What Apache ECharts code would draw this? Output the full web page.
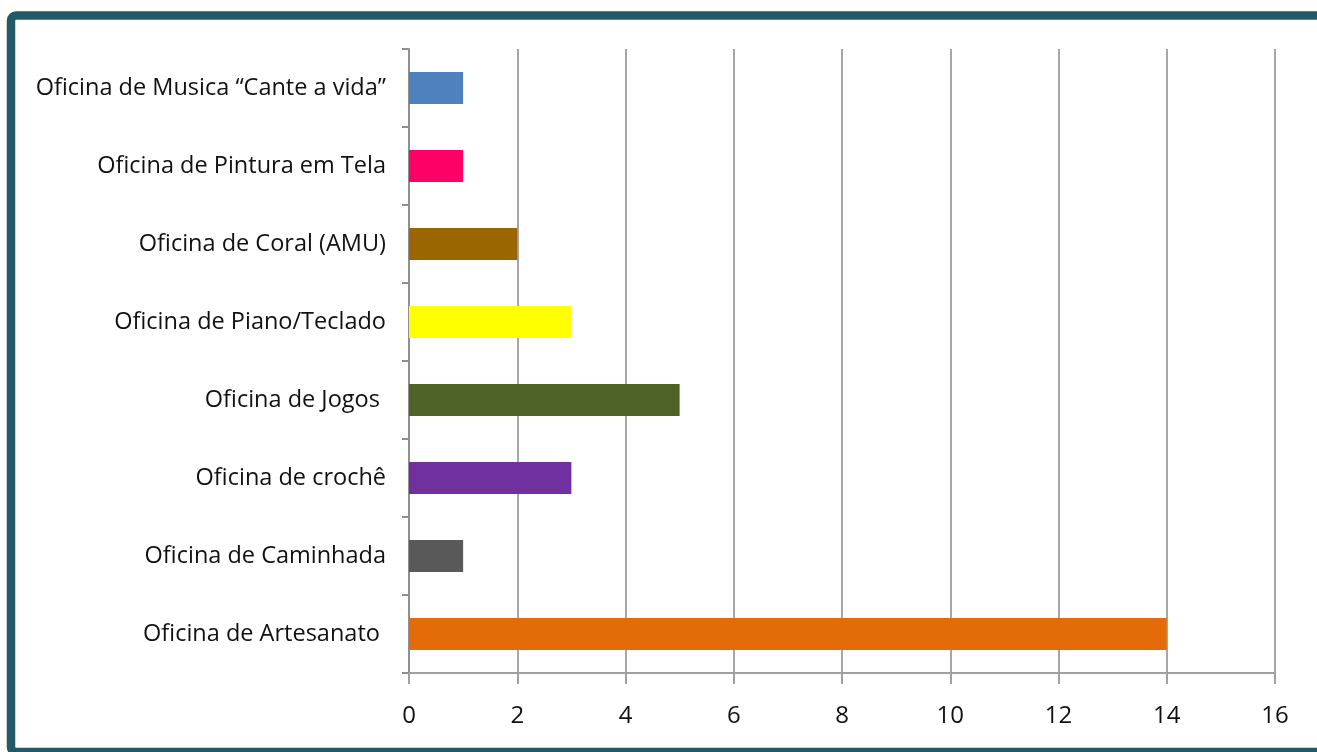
<!DOCTYPE html>
<html><head><meta charset="utf-8">
<script src="https://cdn.jsdelivr.net/npm/echarts@6/dist/echarts.min.js"></script>
<style>html,body{margin:0;padding:0;background:#fff}#c{width:1317px;height:752px}</style>
</head><body><div id="c"></div>
<script>
const categories = ["Oficina de Artesanato ", "Oficina de Caminhada", "Oficina de crochê", "Oficina de Jogos ", "Oficina de Piano/Teclado", "Oficina de Coral (AMU)", "Oficina de Pintura em Tela", "Oficina de Musica \u201cCante a vida\u201d"];
const values = [14, 1, 3, 5, 3, 2, 1, 1];
const colors = ["#e36c09", "#595959", "#7030a0", "#4f6228", "#ffff00", "#996600", "#ff0066", "#4f81bd"];
const xTicks = [0, 2, 4, 6, 8, 10, 12, 14, 16];

const chart = echarts.init(document.getElementById('c'), null, {renderer: 'canvas'});
const font = '"Open Sans", sans-serif';
chart.setOption({
  animation: false,
  backgroundColor: '#fff',
  graphic: [{
    type: 'rect', silent: true, z: 100,
    shape: {x: 11, y: 15.5, width: 1330, height: 736.5, r: 5},
    style: {fill: 'none', stroke: '#225a68', lineWidth: 8.5}
  }],
  grid: {left: 409, right: 42, top: 49, bottom: 79, containLabel: false},
  xAxis: {
    type: 'value', min: xTicks[0], max: xTicks[xTicks.length - 1], interval: 2,
    axisLine: {show: true, lineStyle: {color: '#a0a0a0', width: 2}},
    axisTick: {show: true, length: 11, lineStyle: {color: '#a0a0a0', width: 2}},
    splitLine: {show: true, lineStyle: {color: '#a6a6a6', width: 2}},
    axisLabel: {color: '#111', fontSize: 24, fontFamily: font, margin: 31}
  },
  yAxis: {
    type: 'category', data: categories,
    axisLine: {show: true, lineStyle: {color: '#909090', width: 2}},
    axisTick: {show: true, length: 7, lineStyle: {color: '#909090', width: 2}},
    axisLabel: {color: '#111', fontSize: 23.5, fontFamily: font, margin: 23}
  },
  series: [{
    type: 'bar', barWidth: 32,
    data: values.map((v, i) => ({value: v, itemStyle: {color: colors[i]}}))
  }]
});
</script></body></html>
